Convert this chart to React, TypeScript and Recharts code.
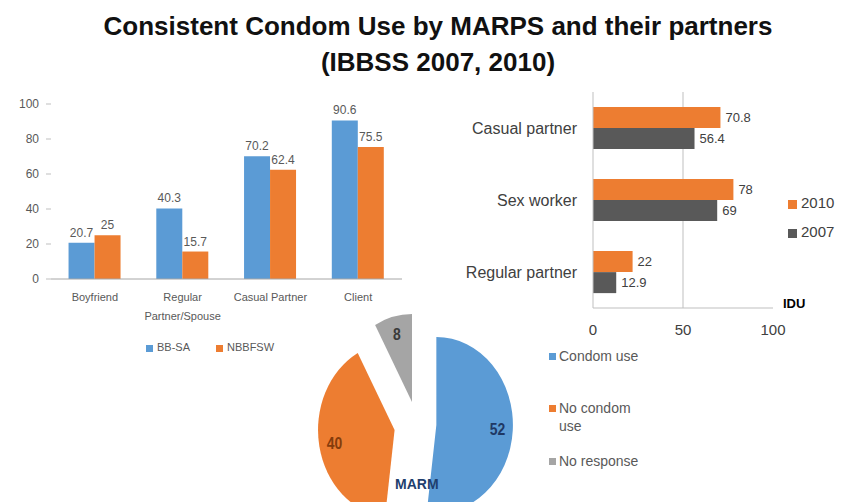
import React from 'react';
import { BarChart, Bar, XAxis, YAxis, Legend, LabelList, PieChart, Pie, Cell, CartesianGrid, Text } from 'recharts';

// left panel: MARPs (IBBSS)
const marpGroups = ['Boyfriend', 'Regular Partner/Spouse', 'Casual Partner', 'Client'];
const bbsaValues = [20.7, 40.3, 70.2, 90.6];
const nbbfswValues = [25, 15.7, 62.4, 75.5];
const marpTicks = [0, 20, 40, 60, 80, 100];

// right panel: IDU partners
const iduPartners = ['Casual partner', 'Sex worker', 'Regular partner'];
const idu2010 = [70.8, 78, 22];
const idu2007 = [56.4, 69, 12.9];
const iduTicks = [0, 50, 100];
const iduSeries = ['2010', '2007'];

// pie: MARM
const marmLabels = ['Condom use', 'No condom use', 'No response'];
const marmValues = [52, 40, 8];

const BLUE = '#5B9BD5';
const ORANGE = '#ED7D31';
const DARK = '#595959';
const GRAY = '#A5A5A5';
const pieColors = [BLUE, ORANGE, GRAY];
const pieLabelColors = ['#1F3864', '#843C0C', '#3A3A3A'];
// explode offsets (dx, dy) for each slice
const explode = [[0, 0], [-48, 5], [-28, -23]];

const marpData = marpGroups.map((g, i) => ({ name: g, 'BB-SA': bbsaValues[i], NBBFSW: nbbfswValues[i] }));
const iduData = iduPartners.map((p, i) => ({ name: p, '2010': idu2010[i], '2007': idu2007[i] }));
const marmData = marmLabels.map((l, i) => ({ name: l, value: marmValues[i] }));

const FONT = '"Liberation Sans", Arial, sans-serif';
const RAD = Math.PI / 180;

const GroupTick = ({ x, y, payload }: any) => (
  <Text x={x} y={y} dy={6} width={100} lineHeight={19} textAnchor="middle" verticalAnchor="start"
    fontSize={11} fill={DARK} fontFamily={FONT}>
    {payload.value}
  </Text>
);

const sliceLabel = (k: number) => (props: any) => {
  const { cx, cy, midAngle, outerRadius, index, value } = props;
  if (index !== k) return null;
  const r = outerRadius * 0.8;
  const x = cx + r * Math.cos(-midAngle * RAD);
  const y = cy + r * Math.sin(-midAngle * RAD);
  return (
    <text x={x} y={y} textAnchor="middle" dominantBaseline="central" fontSize={16} fontWeight="bold"
      fill={pieLabelColors[k]} fontFamily={FONT}>
      {value}
    </text>
  );
};

const App: React.FC = () => {
  return (
    <div style={{ position: 'absolute', left: 0, top: 0, width: 851, height: 502, overflow: 'hidden', background: '#fff', fontFamily: FONT }}>
      <div style={{ position: 'absolute', left: 0, top: 8, width: 876, textAlign: 'center', fontSize: 26, fontWeight: 'bold', lineHeight: '36px', color: '#111' }}>
        Consistent Condom Use by MARPS and their partners
        <br />
        (IBBSS 2007, 2010)
      </div>

      <div style={{ position: 'absolute', left: 0, top: 0 }}>
        <BarChart width={420} height={370} data={marpData} margin={{ top: 104, right: 18, bottom: 0, left: 0 }}
          barCategoryGap="20%" barGap={0}>
          <XAxis dataKey="name" height={91} axisLine={{ stroke: '#a6a6a6' }} tickLine={false} tick={<GroupTick />} interval={0} />
          <YAxis domain={[0, 100]} ticks={marpTicks} width={51} axisLine={false}
            tickLine={{ stroke: '#bfbfbf' }} tickSize={5} tickMargin={7}
            tick={{ fontSize: 12, fill: DARK, fontFamily: FONT }} />
          <Legend layout="horizontal" verticalAlign="middle" align="center" iconType="square" iconSize={7}
            wrapperStyle={{ top: 341, left: 146, width: 'auto', fontSize: 11, fontFamily: FONT }}
            formatter={(v: string) => <span style={{ color: DARK, marginRight: 16 }}>{v}</span>} />
          <Bar dataKey="BB-SA" fill={BLUE} isAnimationActive={false}>
            <LabelList dataKey="BB-SA" position="top" offset={6} fontSize={12} fill={DARK} fontFamily={FONT} />
          </Bar>
          <Bar dataKey="NBBFSW" fill={ORANGE} isAnimationActive={false}>
            <LabelList dataKey="NBBFSW" position="top" offset={6} fontSize={12} fill={DARK} fontFamily={FONT} />
          </Bar>
        </BarChart>
      </div>

      <div style={{ position: 'absolute', left: 420, top: 0 }}>
        <BarChart width={431} height={360} data={iduData} layout="vertical"
          margin={{ top: 92, right: 78, bottom: 0, left: 0 }} barCategoryGap="21%" barGap={0}>
          <CartesianGrid horizontal={false} verticalValues={[50]} stroke="#bfbfbf" />
          <XAxis type="number" domain={[0, 100]} ticks={iduTicks} height={52} axisLine={{ stroke: '#bfbfbf' }}
            tickLine={false} tickSize={0} tickMargin={16} tick={{ fontSize: 15, fill: '#404040', fontFamily: FONT }} />
          <YAxis type="category" dataKey="name" width={173} axisLine={{ stroke: '#bfbfbf' }} tickLine={false}
            tickSize={0} tickMargin={16} tick={{ fontSize: 16, fill: '#404040', fontFamily: FONT }} />
          <Legend layout="vertical" align="center" verticalAlign="middle" iconType="square" iconSize={9}
            itemSorter={(item: any) => iduSeries.indexOf(String(item.value))}
            wrapperStyle={{ top: 188, left: 368, width: 'auto', fontSize: 15, lineHeight: '29px', fontFamily: FONT }}
            formatter={(v: string) => <span style={{ color: '#404040' }}>{v}</span>} />
          <Bar dataKey={iduSeries[0]} fill={ORANGE} isAnimationActive={false}>
            <LabelList dataKey={iduSeries[0]} position="right" offset={5} fontSize={13} fill="#404040" fontFamily={FONT} />
          </Bar>
          <Bar dataKey={iduSeries[1]} fill={DARK} isAnimationActive={false}>
            <LabelList dataKey={iduSeries[1]} position="right" offset={5} fontSize={13} fill="#404040" fontFamily={FONT} />
          </Bar>
        </BarChart>
      </div>

      <div style={{ position: 'absolute', left: 783, top: 296, fontSize: 13, fontWeight: 'bold', color: '#000' }}>IDU</div>

      <div style={{ position: 'absolute', left: 300, top: 300, width: 264, height: 240, transform: 'scaleX(0.87)', transformOrigin: '132px 120px' }}>
        <PieChart width={264} height={240}>
          {marmLabels.map((_, k) => (
            <Pie key={k} data={marmData} dataKey="value" nameKey="name" cx={132 + explode[k][0]} cy={120 + explode[k][1]}
              outerRadius={88} startAngle={90} endAngle={-270} stroke="none" labelLine={false}
              label={sliceLabel(k)} isAnimationActive={false}>
              {marmData.map((d, i) => (
                <Cell key={d.name} fill={i === k ? pieColors[i] : 'transparent'} />
              ))}
            </Pie>
          ))}
        </PieChart>
      </div>

      <div style={{ position: 'absolute', left: 395, top: 476, fontSize: 14, fontWeight: 'bold', color: '#1F3F6E' }}>MARM</div>

      <div style={{ position: 'absolute', left: 549, top: 347, fontSize: 14, color: DARK, lineHeight: '18px' }}>
        {marmLabels.map((l, i) => (
          <div key={l} style={{ display: 'flex', alignItems: 'flex-start', marginTop: [0, 34, 17][i] }}>
            <span style={{ width: 7, height: 7, background: pieColors[i], marginTop: 6, marginRight: 3, flex: 'none' }} />
            <span style={{ width: 84 }}>{l}</span>
          </div>
        ))}
      </div>
    </div>
  );
};

export default App;
